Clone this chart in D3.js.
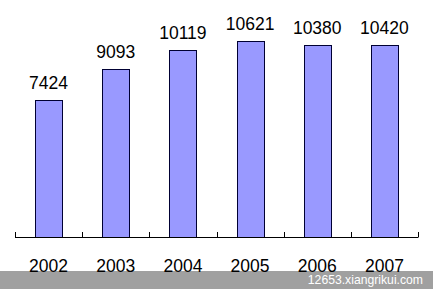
<!DOCTYPE html>
<html>
<head>
<meta charset="utf-8">
<script src="https://cdn.jsdelivr.net/npm/d3@7"></script>
<style>
  body { margin: 0; background: #fff; }
  svg { display: block; }
</style>
</head>
<body>
<svg width="433" height="289"></svg>
<script>
var years = ["2002", "2003", "2004", "2005", "2006", "2007"];
var values = [7424, 9093, 10119, 10621, 10380, 10420];
var watermark = "12653.xiangrikui.com";

var svg = d3.select("svg");
var baseY = 237;

var x = d3.scaleBand()
    .domain(years)
    .range([15, 418])
    .paddingInner(0.6)
    .paddingOuter(0.3);

var y = d3.scaleLinear()
    .domain([0, 12000])
    .range([baseY, baseY - 221.4]);

// bars
svg.append("g")
    .selectAll("rect")
    .data(values)
    .enter()
    .append("rect")
    .attr("x", function(d, i) { return Math.round(x(years[i])) + 0.5; })
    .attr("y", function(d) { return Math.round(y(d)) + 0.5; })
    .attr("width", Math.round(x.bandwidth()))
    .attr("height", function(d) { return baseY - Math.round(y(d)); })
    .style("fill", "#9999ff")
    .style("stroke", "#000033")
    .style("stroke-width", 1);

// value labels
svg.append("g")
    .selectAll("text")
    .data(values)
    .enter()
    .append("text")
    .attr("x", function(d, i) { return x(years[i]) + x.bandwidth() / 2; })
    .attr("y", function(d) { return y(d) - 11; })
    .attr("text-anchor", "middle")
    .style("font-family", "'Liberation Sans', Arial, sans-serif")
    .style("font-size", "17.5px")
    .style("fill", "#000")
    .text(function(d) { return d; });

// gray strip at the bottom
svg.append("rect")
    .attr("x", 0)
    .attr("y", 271)
    .attr("width", 433)
    .attr("height", 18)
    .style("fill", "#a0a0a0");

// axis line and ticks at band edges
var edges = d3.range(years.length + 1).map(function(i) { return 15 + i * (403 / years.length); });
svg.append("line")
    .attr("x1", 15).attr("x2", 418)
    .attr("y1", baseY + 0.5).attr("y2", baseY + 0.5)
    .style("stroke", "#000").style("stroke-width", 1.2);
svg.append("g")
    .selectAll("line")
    .data(edges)
    .enter()
    .append("line")
    .attr("x1", function(d) { return Math.round(d) + 0.5; })
    .attr("x2", function(d) { return Math.round(d) + 0.5; })
    .attr("y1", baseY - 5)
    .attr("y2", baseY + 0.5)
    .style("stroke", "#000");

// year labels
svg.append("g")
    .selectAll("text")
    .data(years)
    .enter()
    .append("text")
    .attr("x", function(d) { return x(d) + x.bandwidth() / 2; })
    .attr("y", 272)
    .attr("text-anchor", "middle")
    .style("font-family", "'Liberation Sans', Arial, sans-serif")
    .style("font-size", "17.5px")
    .style("fill", "#000")
    .text(function(d) { return d; });

// watermark
svg.append("text")
    .attr("x", 423)
    .attr("y", 284)
    .attr("text-anchor", "end")
    .style("font-family", "'Liberation Sans', Arial, sans-serif")
    .style("font-size", "12.2px")
    .style("fill", "#fff")
    .text(watermark);
</script>
</body>
</html>
